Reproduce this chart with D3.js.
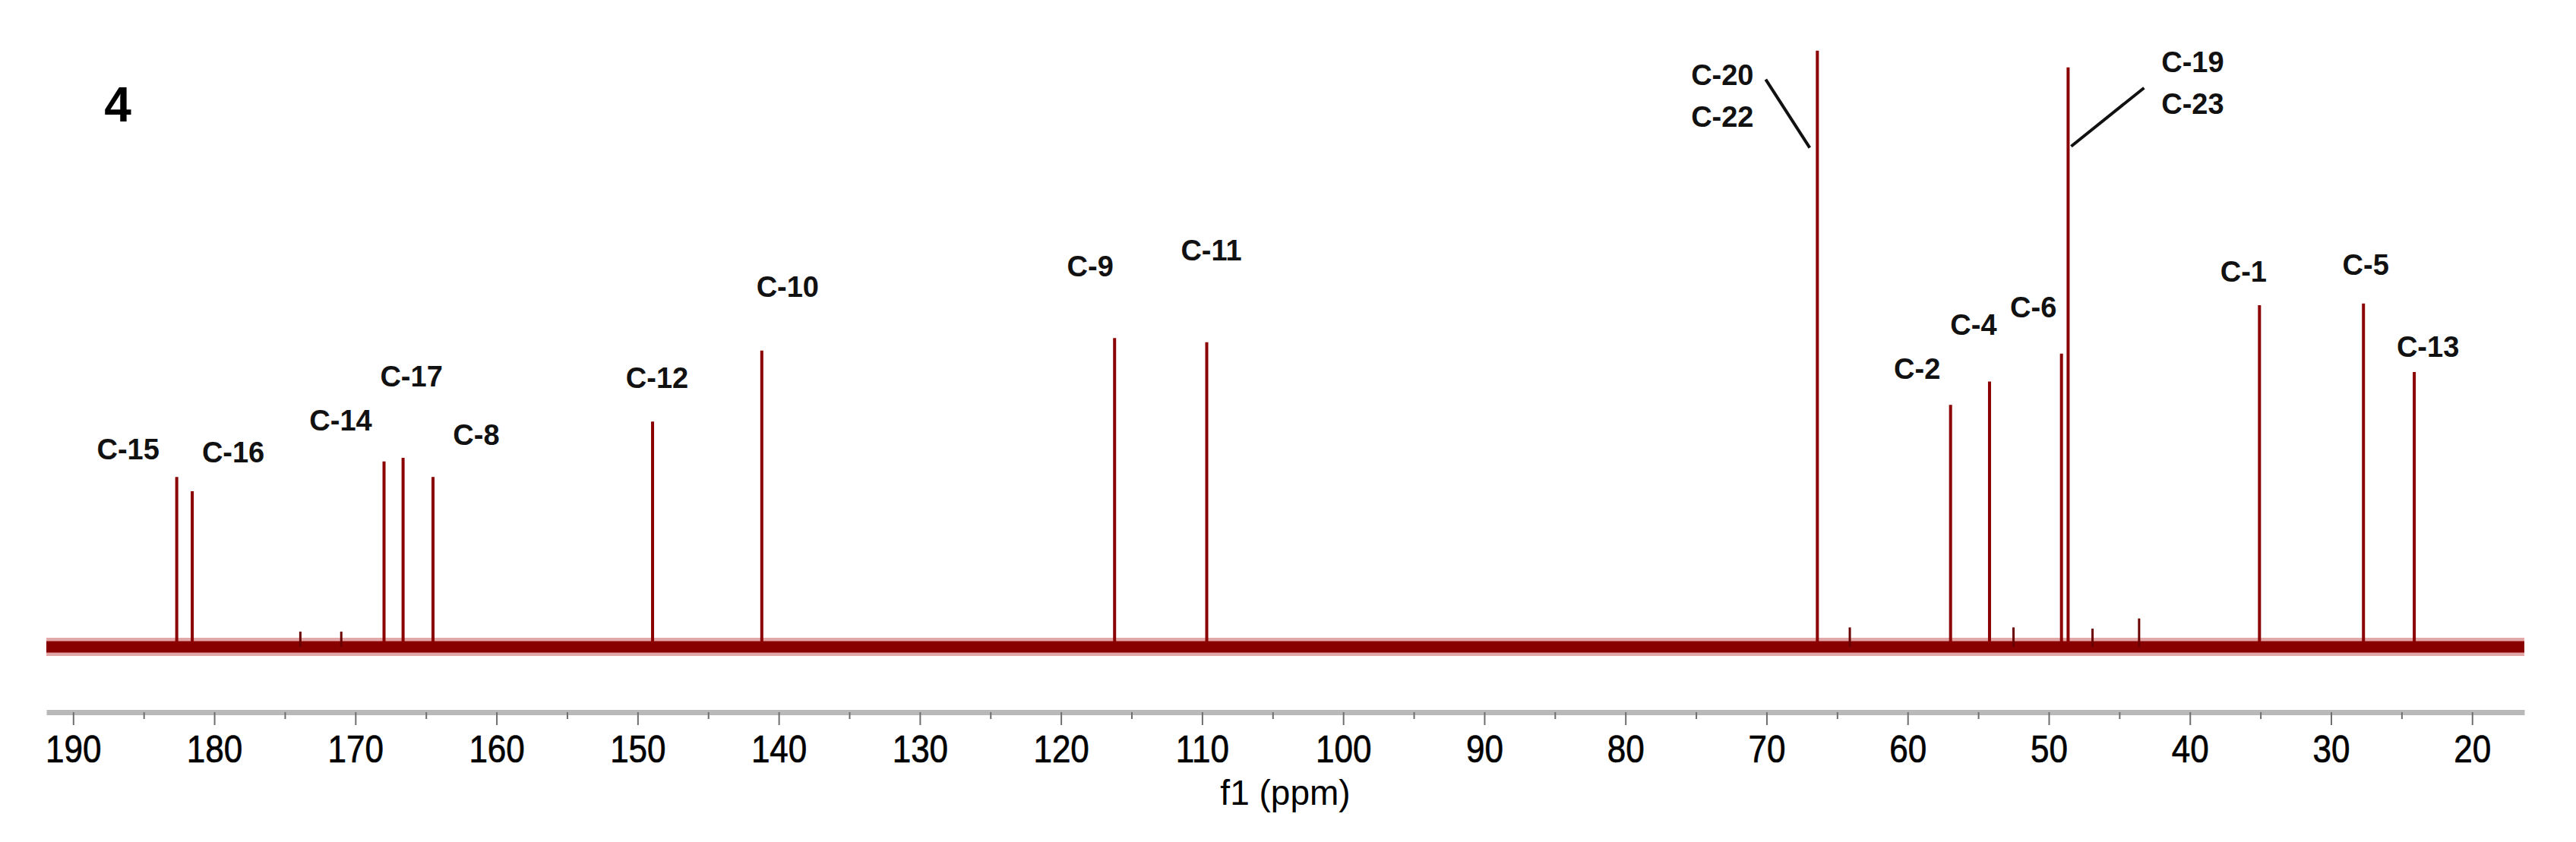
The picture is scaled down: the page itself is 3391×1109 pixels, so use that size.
<!DOCTYPE html>
<html>
<head>
<meta charset="utf-8">
<script src="https://cdn.jsdelivr.net/npm/d3@7"></script>
<style>
body{margin:0;background:#fff}
</style>
</head>
<body>
<svg width="3391" height="1109"></svg>
<script>
// 13C spectrum of compound 4, peaks
var peakPpm    = [182.66, 181.56, 167.97, 166.62, 164.5, 148.94, 141.2, 116.2, 109.67, 66.4, 56.96, 54.2, 49.1, 48.63, 35.07, 27.7, 24.1];
var peakHeight = [28.5, 26.1, 31.1, 31.7, 28.5, 37.8, 49.7, 51.8, 51.1, 100, 40.6, 44.5, 49.2, 97.2, 57.3, 57.6, 46.1];
var peakLabels = ["C-15", "C-16", "C-14", "C-17", "C-8", "C-12", "C-10", "C-9", "C-11", ["C-20", "C-22"], "C-2", "C-4", "C-6", ["C-19", "C-23"], "C-1", "C-5", "C-13"];

// small impurity spikes sticking out of the noise
var spikePpm    = [173.9, 171.0, 64.1, 52.5, 46.9, 43.6];
var spikeHeight = [1.8, 1.8, 2.5, 2.5, 2.3, 4];

var ppmRange   = [191.9, 16.3];
var majorTicks = [190, 180, 170, 160, 150, 140, 130, 120, 110, 100, 90, 80, 70, 60, 50, 40, 30, 20];
var minorTicks = [185, 175, 165, 155, 145, 135, 125, 115, 105, 95, 85, 75, 65, 55, 45, 35, 25];
var compoundNo = "4";
var axisTitle  = "f1 (ppm)";

// where each label sits, px from the top of its peak
var labelOff = [[-64,-37],[54,-52],[-57,-54],[11,-108],[57,-56],[6,-58],[34,-84],[-32,-95],[6,-121],
	[-125,32],[-44,-48],[-21,-75],[-37,-61],[164,-7],[-21,-45],[3,-51],[18,-33]];
// leader lines for the two crowded labels: peak index, start dx,dy, end dx,dy
var leaders = [[9, -68, 38, -10, 128], [13, 100, 27, 4, 104]];

var red = "#8b0000";
var font = "'Liberation Sans', Arial, sans-serif";

var svg = d3.select("svg");
svg.append("rect").attr("width", 3391).attr("height", 1109).style("fill", "#fff");

var x = d3.scaleLinear().domain(ppmRange).range([61, 3323]);
var y = d3.scaleLinear().domain([0, 100]).range([852, 66.7]);

// noisy baseline drawn as a band
svg.append("line")
	.attr("x1", x(ppmRange[0])).attr("x2", x(ppmRange[1]))
	.attr("y1", y(0)).attr("y2", y(0))
	.style("stroke", "#c85050").style("stroke-opacity", 0.5)
	.style("stroke-width", 24);
svg.append("line")
	.attr("x1", x(ppmRange[0])).attr("x2", x(ppmRange[1]))
	.attr("y1", y(0)).attr("y2", y(0))
	.style("stroke", "#880000")
	.style("stroke-width", 15);

svg.selectAll(".spike")
	.data(spikePpm)
	.enter().append("line")
	.attr("class", "spike")
	.attr("x1", function(d){ return x(d); })
	.attr("x2", function(d){ return x(d); })
	.attr("y1", y(0))
	.attr("y2", function(d, i){ return y(spikeHeight[i]) - 6; })
	.style("stroke", "#6a0000")
	.style("stroke-width", 3);

svg.selectAll(".peak")
	.data(peakPpm)
	.enter().append("line")
	.attr("class", "peak")
	.attr("x1", function(d){ return x(d); })
	.attr("x2", function(d){ return x(d); })
	.attr("y1", y(0))
	.attr("y2", function(d, i){ return y(peakHeight[i]); })
	.style("stroke", red)
	.style("stroke-width", 4);

// peak labels
for(let i=0; i<peakPpm.length; i++){
	var lab = peakLabels[i];
	if(!Array.isArray(lab))
		lab = [lab];
	for(let j=0; j<lab.length; j++){
		svg.append("text")
			.attr("x", x(peakPpm[i]) + labelOff[i][0])
			.attr("y", y(peakHeight[i]) + labelOff[i][1] + j*55 + 13.5)
			.attr("text-anchor", "middle")
			.attr("font-family", font)
			.attr("font-weight", "bold")
			.attr("font-size", 38)
			.attr("fill", "#111")
			.text(lab[j]);
	}
}
for(let k=0; k<leaders.length; k++){
	var p = leaders[k][0];
	svg.append("line")
		.attr("x1", x(peakPpm[p]) + leaders[k][1])
		.attr("y1", y(peakHeight[p]) + leaders[k][2])
		.attr("x2", x(peakPpm[p]) + leaders[k][3])
		.attr("y2", y(peakHeight[p]) + leaders[k][4])
		.style("stroke", "#111")
		.style("stroke-width", 4);
}

// axis
var axisY = 938;
var gx = svg.append("g")
	.attr("transform", "translate(0," + axisY + ")")
	.call(d3.axisBottom(x).tickValues(majorTicks).tickSize(17).tickSizeOuter(0).tickPadding(14).tickFormat(d3.format("d")));
gx.select(".domain").attr("stroke", "#b9b9b9").attr("stroke-width", 7);
gx.selectAll(".tick line").attr("stroke", "#6e6e6e").attr("stroke-width", 2);
gx.selectAll(".tick text")
	.attr("font-family", font)
	.attr("font-size", 50)
	.attr("fill", "#000")
	.attr("stroke", "#000")
	.attr("stroke-width", 0.7)
	.attr("transform", "scale(0.88,1)");

var gm = svg.append("g")
	.attr("transform", "translate(0," + axisY + ")")
	.call(d3.axisBottom(x).tickValues(minorTicks).tickSize(9).tickFormat(""));
gm.select(".domain").remove();
gm.selectAll(".tick line").attr("stroke", "#6e6e6e").attr("stroke-width", 2);

svg.append("text")
	.attr("x", (x.range()[0] + x.range()[1]) / 2)
	.attr("y", 1060)
	.attr("text-anchor", "middle")
	.attr("font-family", font)
	.attr("font-size", 46)
	.attr("fill", "#000")
	.text(axisTitle);

svg.append("text")
	.attr("x", 155)
	.attr("y", 160)
	.attr("text-anchor", "middle")
	.attr("font-family", font)
	.attr("font-weight", "bold")
	.attr("font-size", 64)
	.attr("fill", "#000")
	.text(compoundNo);
</script>
</body>
</html>
